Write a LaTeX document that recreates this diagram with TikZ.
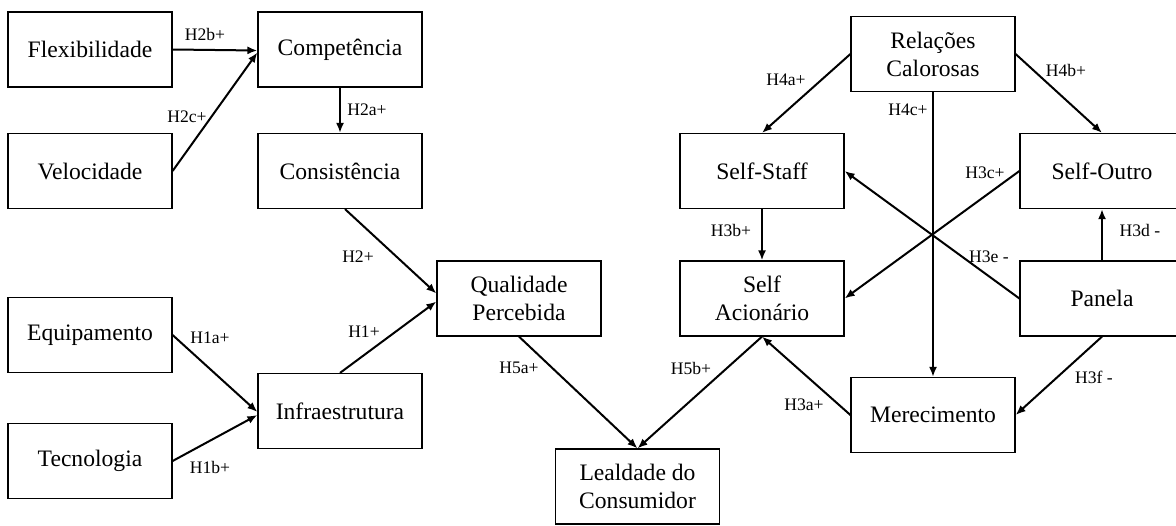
\documentclass[tikz,border=0pt]{standalone}
\usepackage{fontspec}
\setmainfont{Liberation Serif}
\usetikzlibrary{arrows.meta,calc}
\begin{document}
\begin{tikzpicture}[x=0.5pt,y=-0.5pt,
  construct/.style={draw=black,line width=0.6pt,minimum width=82pt,minimum height=37.5pt,
    inner sep=0pt,align=center,font=\fontsize{11.8}{14}\selectfont},
  hyp/.style={inner sep=0pt,font=\fontsize{8.8}{10}\selectfont},
  link/.style={line width=1pt,-{Latex[length=5pt,width=4pt]}}]
\clip (0,0) rectangle (1176,525);
\fill[white] (0,0) rectangle (1176,525);

% constructs
\node[construct] (flex)   at (90,49.5)    {Flexibilidade};
\node[construct] (comp)   at (340,49.5)   {Competência};
\node[construct] (velo)   at (90,171)     {Velocidade};
\node[construct] (cons)   at (340,171)    {Consistência};
\node[construct] (equip)  at (90,335)     {Equipamento};
\node[construct] (tecno)  at (90,461)     {Tecnologia};
\node[construct] (infra)  at (340,411)    {Infraestrutura};
\node[construct] (qual)   at (519,298.5)  {Qualidade\\Percebida};
\node[construct] (leal)   at (637.5,486.5){Lealdade do\\Consumidor};
\node[construct] (acion)  at (762,298.5)  {Self\\Acionário};
\node[construct] (staff)  at (762,171)    {Self-Staff};
\node[construct] (rel)    at (933,54)     {Relações\\Calorosas};
\node[construct] (outro)  at (1102,171)   {Self-Outro};
\node[construct] (panela) at (1102,298.5) {Panela};
\node[construct] (mere)   at (933,415)    {Merecimento};

% hypothesised paths
\draw[link] (flex.east) -- ($(comp.west)+(0,1)$);
\draw[link] (velo.east) -- ($(comp.west)+(0,3)$);
\draw[link] (comp.south) -- (cons.south |- cons.north);
\draw[link] ($(cons.south)+(5,0)$) -- ($(qual.west)+(0,-5)$);
\draw[link] (infra.north) -- ($(qual.west)+(0,3)$);
\draw[link] (equip.east) -- ($(infra.west)+(0,1)$);
\draw[link] (tecno.east) -- ($(infra.west)+(0,4)$);
\draw[link] (qual.south) -- (leal.north);
\draw[link] (acion.south) -- (leal.north);
\draw[link] (rel.west) -- (staff.north);
\draw[link] (rel.east) -- (outro.north);
\draw[link] (rel.south) -- (mere.north);
\draw[link] (staff.south) -- (acion.north);
\draw[link] (outro.west) -- (acion.east);
\draw[link] (panela.west) -- (staff.east);
\draw[link] (panela.north) -- (outro.south);
\draw[link] (panela.south) -- (mere.east);
\draw[link] (mere.west) -- (acion.south);

% path labels
\node[hyp] (h2b) at (205,34)   {H2b+};
\node[hyp] (h2c) at (187,117)  {H2c+};
\node[hyp] (h2a) at (367,110)  {H2a+};
\node[hyp] (h2)  at (358,257)  {H2+};
\node[hyp] (h1)  at (364,332)  {H1+};
\node[hyp] (h1a) at (210,338)  {H1a+};
\node[hyp] (h1b) at (210,467)  {H1b+};
\node[hyp] (h5a) at (519,368)  {H5a+};
\node[hyp] (h5b) at (691,368)  {H5b+};
\node[hyp] (h4a) at (786,80)   {H4a+};
\node[hyp] (h4b) at (1066,70)  {H4b+};
\node[hyp] (h4c) at (908,110)  {H4c+};
\node[hyp] (h3b) at (731,230)  {H3b+};
\node[hyp] (h3c) at (985,173)  {H3c+};
\node[hyp] (h3d) at (1140,230) {H3d -};
\node[hyp] (h3e) at (989,257)  {H3e -};
\node[hyp] (h3a) at (804,405)  {H3a+};
\node[hyp] (h3f) at (1094,377) {H3f -};
\end{tikzpicture}
\end{document}
